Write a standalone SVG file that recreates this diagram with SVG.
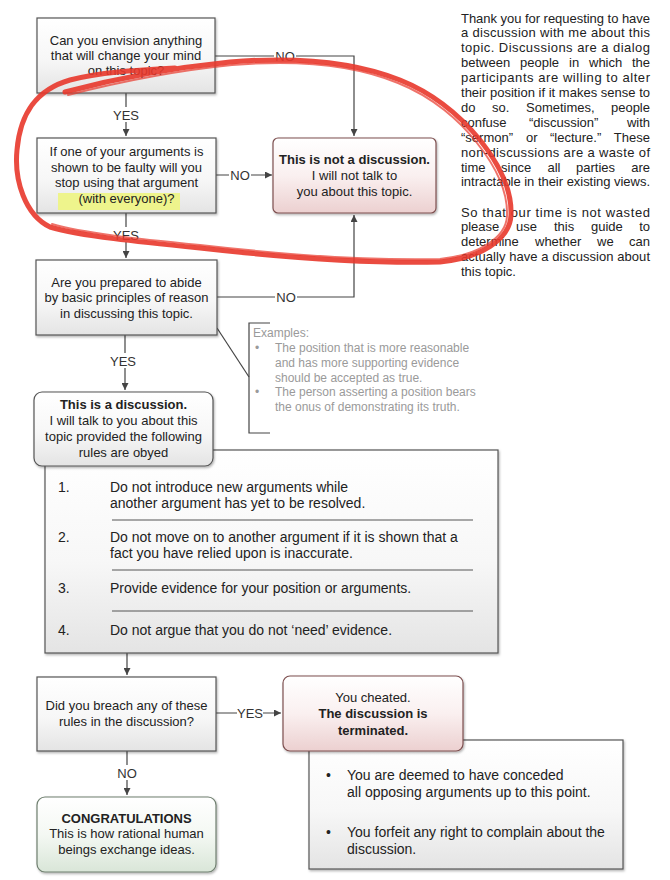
<svg xmlns="http://www.w3.org/2000/svg" width="670" height="880" viewBox="0 0 670 880">
<style>
text{font-family:"Liberation Sans",Arial,sans-serif;fill:#222;}
.t13{font-size:13px;text-anchor:middle;}
.t14{font-size:14px;}
.b{font-weight:bold;}
.lbl{font-size:13px;text-anchor:middle;fill:#333;}
.ex{font-size:12px;fill:#9a9a9a;}
.para{font-size:13px;fill:#222;}
.end{text-anchor:end;}
.box{stroke:#555;stroke-width:1.2;fill:url(#gGray);}
.redbox{stroke:#7d4f4f;stroke-width:1.2;fill:url(#gRed);}
.greenbox{stroke:#6f7f6f;stroke-width:1.2;fill:url(#gGreen);}
.con{stroke:#444;stroke-width:1.2;fill:none;}
.sep{stroke:#555;stroke-width:1;}
</style>
<defs>
<linearGradient id="gGray" x1="0" y1="0" x2="0" y2="1"><stop offset="0" stop-color="#ffffff"/><stop offset="0.55" stop-color="#f7f7f7"/><stop offset="1" stop-color="#e4e4e4"/></linearGradient>
<linearGradient id="gRed" x1="0" y1="0" x2="0" y2="1"><stop offset="0" stop-color="#ffffff"/><stop offset="0.5" stop-color="#faf0f0"/><stop offset="1" stop-color="#ecd0d0"/></linearGradient>
<linearGradient id="gGreen" x1="0" y1="0" x2="0" y2="1"><stop offset="0" stop-color="#ffffff"/><stop offset="0.5" stop-color="#f4f8f3"/><stop offset="1" stop-color="#d9e6d8"/></linearGradient>
<filter id="sh" x="-5%" y="-5%" width="115%" height="120%"><feDropShadow dx="1" dy="1.5" stdDeviation="1.2" flood-color="#000" flood-opacity="0.3"/></filter>
<marker id="arr" viewBox="0 0 10 10" refX="10" refY="5" markerWidth="7" markerHeight="7" orient="auto-start-reverse" markerUnits="userSpaceOnUse"><path d="M0,0 L10,5 L0,10 z" fill="#444"/></marker>
</defs>
<rect width="670" height="880" fill="#ffffff"/>

<g id="connectors">
<path class="con" d="M215,56 H354 V136" marker-end="url(#arr)"/>
<path class="con" d="M126,93 V136" marker-end="url(#arr)"/>
<path class="con" d="M216,175 H272" marker-end="url(#arr)"/>
<path class="con" d="M126,213 V258" marker-end="url(#arr)"/>
<path class="con" d="M217,297 H354 V215" marker-end="url(#arr)"/>
<path class="con" d="M125,335 V390" marker-end="url(#arr)"/>
<path class="con" d="M127,653 V675" marker-end="url(#arr)"/>
<path class="con" d="M216,713 H281" marker-end="url(#arr)"/>
<path class="con" d="M127,751 V795" marker-end="url(#arr)"/>
<path class="con" d="M217,328 L249,377"/>
<path class="con" d="M270,323 H249 V433 H270"/>
<rect x="274" y="48" width="22" height="15" fill="#fff"/>
<text class="lbl" x="285" y="61">NO</text>
<rect x="114" y="107" width="25" height="15" fill="#fff"/>
<text class="lbl" x="126" y="120">YES</text>
<rect x="229" y="167" width="22" height="15" fill="#fff"/>
<text class="lbl" x="240" y="180">NO</text>
<rect x="114" y="227" width="25" height="15" fill="#fff"/>
<text class="lbl" x="126" y="240">YES</text>
<rect x="275" y="289" width="22" height="15" fill="#fff"/>
<text class="lbl" x="286" y="302">NO</text>
<rect x="111" y="353" width="25" height="15" fill="#fff"/>
<text class="lbl" x="123" y="366">YES</text>
<rect x="237" y="705" width="26" height="15" fill="#fff"/>
<text class="lbl" x="250" y="718">YES</text>
<rect x="116" y="765" width="22" height="15" fill="#fff"/>
<text class="lbl" x="127" y="778">NO</text>
</g>

<g id="intro">
<text class="para" x="461" y="22.5" textLength="189" lengthAdjust="spacing">Thank you for requesting to have</text>
<text class="para" x="461" y="37.4" textLength="189" lengthAdjust="spacing">a discussion with me about this</text>
<text class="para" x="461" y="52.3" textLength="189" lengthAdjust="spacing">topic. Discussions are a dialog</text>
<text class="para" x="461" y="67.2">between</text><text class="para" x="520" y="67.2">people</text><text class="para" x="569" y="67.2">in</text><text class="para" x="589" y="67.2">which</text><text class="para end" x="650" y="67.2">the</text>
<text class="para" x="461" y="82.1" textLength="189" lengthAdjust="spacing">participants are willing to alter</text>
<text class="para" x="461" y="97" textLength="189" lengthAdjust="spacing">their position if it makes sense to</text>
<text class="para" x="461" y="111.9">do</text><text class="para" x="492" y="111.9">so.</text><text class="para" x="526" y="111.9">Sometimes,</text><text class="para end" x="650" y="111.9">people</text>
<text class="para" x="461" y="126.8">confuse</text><text class="para" x="529" y="126.8">“discussion”</text><text class="para end" x="650" y="126.8">with</text>
<text class="para" x="461" y="141.7">“sermon”</text><text class="para" x="526" y="141.7">or</text><text class="para" x="550" y="141.7">“lecture.”</text><text class="para end" x="650" y="141.7">These</text>
<text class="para" x="461" y="156.6" textLength="189" lengthAdjust="spacing">non-discussions are a waste of</text>
<text class="para" x="461" y="171.5">time</text><text class="para" x="501" y="171.5">since</text><text class="para" x="547.5" y="171.5">all</text><text class="para" x="576" y="171.5">parties</text><text class="para end" x="650" y="171.5">are</text>
<text class="para" x="461" y="186.4" textLength="189" lengthAdjust="spacing">intractable in their existing views.</text>
<text class="para" x="461" y="216.5" textLength="189" lengthAdjust="spacing">So that our time is not wasted</text>
<text class="para" x="461" y="231.4">please</text><text class="para" x="516" y="231.4">use</text><text class="para" x="554" y="231.4">this</text><text class="para" x="591" y="231.4">guide</text><text class="para end" x="650" y="231.4">to</text>
<text class="para" x="461" y="246.3">determine</text><text class="para" x="535" y="246.3">whether</text><text class="para" x="597" y="246.3">we</text><text class="para end" x="650" y="246.3">can</text>
<text class="para" x="461" y="261.2" textLength="189" lengthAdjust="spacing">actually have a discussion about</text>
<text class="para" x="461" y="276.1">this topic.</text>
</g>

<g id="q1">
<rect class="box" x="37" y="18" width="178" height="75" filter="url(#sh)"/>
<text class="t13" x="126" y="45">Can you envision anything</text>
<text class="t13" x="126" y="60">that will change your mind</text>
<text class="t13" x="126" y="75">on this topic?</text>
</g>

<g id="q2">
<rect class="box" x="37" y="138" width="179" height="75" filter="url(#sh)"/>
<rect x="58" y="193" width="122" height="17" fill="#eef48c"/>
<text class="t13" x="126.5" y="156">If one of your arguments is</text>
<text class="t13" x="126.5" y="172">shown to be faulty will you</text>
<text class="t13" x="126.5" y="187">stop using that argument</text>
<text class="t13" x="126.5" y="203">(with everyone)?</text>
</g>

<g id="notdiscussion">
<rect class="redbox" x="273" y="138" width="163" height="75" rx="5" filter="url(#sh)"/>
<text class="t13 b" x="354.5" y="164">This is not a discussion.</text>
<text class="t13" x="354.5" y="180">I will not talk to</text>
<text class="t13" x="354.5" y="196">you about this topic.</text>
</g>

<g id="q3">
<rect class="box" x="36" y="260" width="181" height="75" filter="url(#sh)"/>
<text class="t13" x="126.5" y="287">Are you prepared to abide</text>
<text class="t13" x="126.5" y="302">by basic principles of reason</text>
<text class="t13" x="126.5" y="318">in discussing this topic.</text>
</g>

<g id="examples">
<text class="ex" x="253" y="337">Examples:</text>
<text class="ex" x="255" y="352">•</text>
<text class="ex" x="275" y="352">The position that is more reasonable</text>
<text class="ex" x="275" y="367">and has more supporting evidence</text>
<text class="ex" x="275" y="382">should be accepted as true.</text>
<text class="ex" x="255" y="396">•</text>
<text class="ex" x="275" y="396">The person asserting a position bears</text>
<text class="ex" x="275" y="411">the onus of demonstrating its truth.</text>
</g>

<g id="rules">
<rect class="box" x="45" y="450" width="453" height="203" filter="url(#sh)"/>
<text class="t14" x="58" y="492">1.</text>
<text class="t14" x="110" y="492">Do not introduce new arguments while</text>
<text class="t14" x="110" y="508">another argument has yet to be resolved.</text>
<line class="sep" x1="112" y1="520" x2="473" y2="520"/>
<text class="t14" x="58" y="542">2.</text>
<text class="t14" x="110" y="542">Do not move on to another argument if it is shown that a</text>
<text class="t14" x="110" y="558">fact you have relied upon is inaccurate.</text>
<line class="sep" x1="112" y1="570" x2="473" y2="570"/>
<text class="t14" x="58" y="593">3.</text>
<text class="t14" x="110" y="593">Provide evidence for your position or arguments.</text>
<line class="sep" x1="112" y1="611" x2="473" y2="611"/>
<text class="t14" x="58" y="635">4.</text>
<text class="t14" x="110" y="635">Do not argue that you do not ‘need’ evidence.</text>
</g>

<g id="isdiscussion">
<rect class="box" x="34" y="392" width="179" height="74" rx="8" filter="url(#sh)"/>
<text class="t13 b" x="123.5" y="409">This is a discussion.</text>
<text class="t13" x="123.5" y="425">I will talk to you about this</text>
<text class="t13" x="123.5" y="441">topic provided the following</text>
<text class="t13" x="123.5" y="457">rules are obyed</text>
</g>

<g id="q4">
<rect class="box" x="37" y="677" width="179" height="74" filter="url(#sh)"/>
<text class="t13" x="126.5" y="710">Did you breach any of these</text>
<text class="t13" x="126.5" y="726">rules in the discussion?</text>
</g>

<g id="consequences">
<rect class="box" x="309" y="740" width="314" height="129" filter="url(#sh)"/>
<text class="t14" x="326" y="780">•</text>
<text class="t14" x="347" y="780">You are deemed to have conceded</text>
<text class="t14" x="347" y="797">all opposing arguments up to this point.</text>
<text class="t14" x="326" y="837">•</text>
<text class="t14" x="347" y="837">You forfeit any right to complain about the</text>
<text class="t14" x="347" y="854">discussion.</text>
</g>

<g id="cheated">
<rect class="redbox" x="283" y="676" width="180" height="75" rx="7" filter="url(#sh)"/>
<text class="t13" x="373" y="702">You cheated.</text>
<text class="t13 b" x="373" y="718">The discussion is</text>
<text class="t13 b" x="373" y="735">terminated.</text>
</g>

<g id="congrats">
<rect class="greenbox" x="37" y="797" width="179" height="75" rx="8" filter="url(#sh)"/>
<text class="t13 b" x="126.5" y="823">CONGRATULATIONS</text>
<text class="t13" x="126.5" y="838">This is how rational human</text>
<text class="t13" x="126.5" y="854">beings exchange ideas.</text>
</g>

<g id="scribble" fill="none" stroke="#e8372b" stroke-linecap="round" stroke-linejoin="round">
<path stroke-width="5" opacity="0.9" d="M65,92 C110,80 170,68 230,62 C290,57 350,60 400,80 C435,94 462,118 480,140 C500,165 512,190 511,215 C510,240 480,258 440,262 C360,264 270,256 200,248 C140,242 80,236 50,227 C25,215 14,180 17,150 C20,115 35,90 70,80 C100,72 140,70 175,68"/>
<path stroke-width="2" opacity="0.7" d="M68,95 C115,83 172,71 232,65 C292,60 350,63 398,83 C433,97 460,121 477,143 C497,168 508,192 507,216 C506,238 478,255 440,259 C360,261 270,253 200,245 C140,239 82,233 52,224"/>
</g>
</svg>
